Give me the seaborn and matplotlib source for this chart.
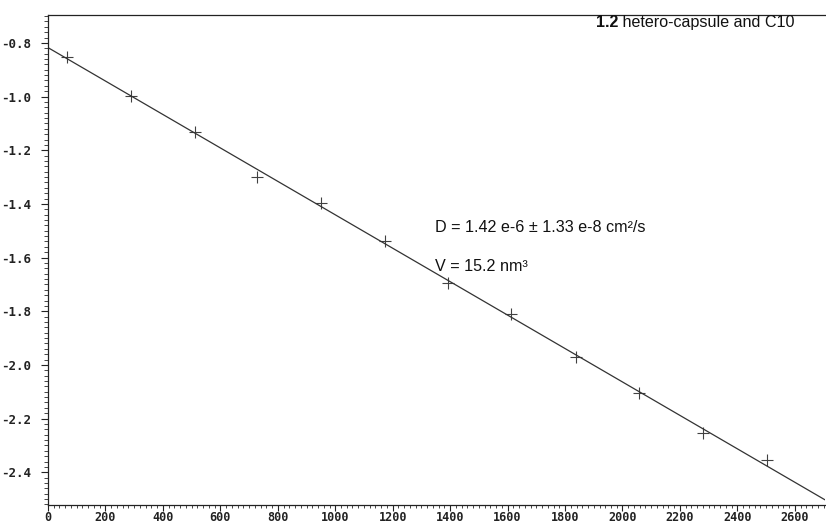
import numpy as np
import pandas as pd
import matplotlib
matplotlib.use("Agg")
import matplotlib.pyplot as plt
from matplotlib.ticker import MultipleLocator, FormatStrFormatter
from matplotlib.font_manager import FontProperties
import seaborn as sns

# Diffusion decay: gradient term vs ln(I/I0)
gradient = [66, 290, 511, 728, 952, 1172, 1393, 1613, 1837, 2058, 2282, 2502]
log_intensity = [-0.852, -0.997, -1.131, -1.299, -1.397, -1.540, -1.693,
                 -1.810, -1.972, -2.106, -2.255, -2.355]

title_bold = "1.2"
title_rest = " hetero-capsule and C10"
label_d = "D = 1.42 e-6 \u00b1 1.33 e-8 cm\u00b2/s"
label_v = "V = 15.2 nm\u00b3"

df = pd.DataFrame({"g": gradient, "lnI": log_intensity})

sns.set_style("ticks")
plt.rcParams["axes.unicode_minus"] = False
plt.rcParams["font.family"] = ["DejaVu Sans"]

fig = plt.figure(figsize=(8.26, 5.24), dpi=100)
ax = fig.add_axes([48 / 826, 19 / 524, 777 / 826, 490 / 524])
ax.set_xlim(0, 2705)
ax.set_ylim(-2.522, -0.696)

sns.regplot(data=df, x="g", y="lnI", ax=ax, ci=None, truncate=False,
            marker="+",
            scatter_kws={"s": 70, "color": "#111111", "linewidths": 0.8},
            line_kws={"color": "#333333", "linewidth": 0.9})

ax.set_xlabel("")
ax.set_ylabel("")

for side in ("left", "bottom", "top"):
    ax.spines[side].set_visible(True)
    ax.spines[side].set_color("#222222")
    ax.spines[side].set_linewidth(0.9)
ax.spines["right"].set_visible(False)

ax.xaxis.set_major_locator(MultipleLocator(200))
ax.xaxis.set_minor_locator(MultipleLocator(20))
ax.yaxis.set_major_locator(MultipleLocator(0.2))
ax.yaxis.set_minor_locator(MultipleLocator(0.02))
ax.yaxis.set_major_formatter(FormatStrFormatter("%.1f"))
ax.xaxis.set_major_formatter(FormatStrFormatter("%d"))

ax.tick_params(axis="both", which="major", direction="out", length=5,
               width=0.8, color="#222222", labelcolor="#222222")
ax.tick_params(axis="both", which="minor", direction="out", length=3,
               width=0.7, color="#444444")
ax.tick_params(axis="x", which="major", length=4, pad=0.5)
ax.tick_params(axis="x", which="minor", length=2.5)
ax.tick_params(axis="y", which="major", pad=7)
ax.tick_params(top=False, right=False, which="both")
ytick_font = FontProperties(family="DejaVu Sans Mono", weight="bold", size=9)
xtick_font = FontProperties(family="DejaVu Sans Mono", weight="bold", size=8.5)
for lab in ax.get_yticklabels():
    lab.set_fontproperties(ytick_font)
for lab in ax.get_xticklabels():
    lab.set_fontproperties(xtick_font)

text_font = "Liberation Sans"
fs = 11.6
t1 = ax.text(0.705, 0.985, title_bold, transform=ax.transAxes, fontsize=fs,
             fontweight="bold", family=text_font, va="center", ha="left",
             color="#111111")
fig.canvas.draw()
bb = t1.get_window_extent()
x_end = ax.transAxes.inverted().transform((bb.x1, bb.y0))[0]
ax.text(x_end, 0.985, title_rest, transform=ax.transAxes, fontsize=fs,
        family=text_font, va="center", ha="left", color="#111111")

ax.text(0.498, 0.567, label_d, transform=ax.transAxes, fontsize=fs,
        family=text_font, va="center", ha="left", color="#111111")
ax.text(0.498, 0.487, label_v, transform=ax.transAxes, fontsize=fs,
        family=text_font, va="center", ha="left", color="#111111")

fig.savefig("out.png", dpi=100, facecolor="white")
